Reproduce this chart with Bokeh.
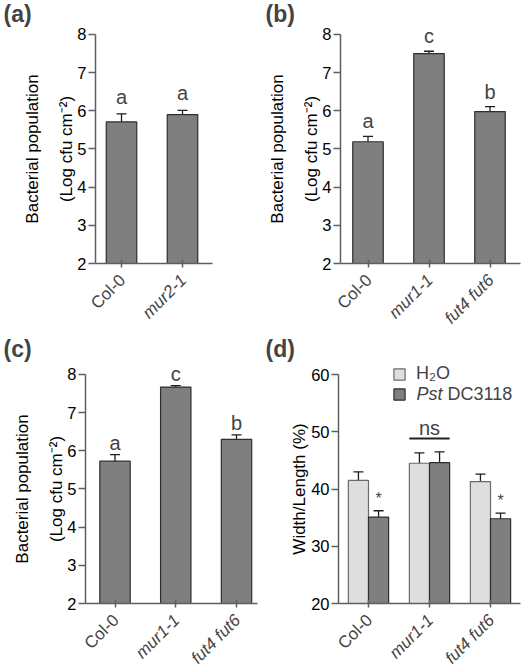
from math import pi
from bokeh.plotting import figure
from bokeh.models import (Range1d, FixedTicker, Label, Whisker, ColumnDataSource,
                          Legend, LegendItem)
from bokeh.layouts import column, row
from bokeh.embed import file_html
from bokeh.resources import INLINE

# ---------------- data ----------------
a_cats = ["Col-0", "mur2-1"]
a_italic = [False, True]
a_means = [5.71, 5.90]
a_errs = [0.21, 0.11]
a_letters = ["a", "a"]

b_cats = ["Col-0", "mur1-1", "fut4 fut6"]
b_italic = [False, True, True]
b_means = [5.19, 7.50, 5.98]
b_errs = [0.14, 0.06, 0.13]
b_letters = ["a", "c", "b"]

c_cats = ["Col-0", "mur1-1", "fut4 fut6"]
c_italic = [False, True, True]
c_means = [5.73, 7.67, 6.30]
c_errs = [0.17, 0.04, 0.12]
c_letters = ["a", "c", "b"]

d_cats = ["Col-0", "mur1-1", "fut4 fut6"]
d_italic = [False, True, True]
d_h2o = [41.5, 44.5, 41.3]
d_h2o_err = [1.5, 1.8, 1.3]
d_pst = [35.1, 44.6, 34.8]
d_pst_err = [1.1, 1.9, 1.0]
d_marks = ["*", "", "*"]
d_ns_group = 1
d_ns_y = 48.8

log_ticks = [2, 3, 4, 5, 6, 7, 8]
ratio_ticks = [20, 30, 40, 50, 60]
log_label = "Bacterial population\n(Log cfu cm\u207b\u00b2)"
ratio_label = "Width/Length (%)"
series_names = ["H\u2082O", "Pst", "DC3118"]   # "Pst" is italic in the legend

# ---------------- style / layout ----------------
FONT = "Liberation Sans"
BAR_DARK = "#7f7f7f"
BAR_LIGHT = "#dedede"
EDGE_DARK = "#2e2e2e"
EDGE_LIGHT = "#6a6a6a"
AXIS = "#5f5f5f"
ERR = "#1e1e1e"

# page-pixel layout of each panel: figure box, first-category pixel, px per category,
# pixel of the lowest y tick, px per y unit, y-axis pixel, x-axis end pixel
LAYOUT = {
    "a": dict(box=(0, 0, 262, 335), c0=121, sx=61, y0px=263, sy=38.17, yaxis=95, xend=212),
    "b": dict(box=(262, 0, 262, 335), c0=367.5, sx=61, y0px=263, sy=38.17, yaxis=340, xend=520),
    "c": dict(box=(0, 335, 262, 336), c0=114.5, sx=60.75, y0px=603, sy=38.17, yaxis=85, xend=257),
    "d": dict(box=(262, 335, 262, 336), c0=368, sx=61, y0px=603, sy=5.725, yaxis=338, xend=520),
}
LEGEND_TEXT_PX = (416, 393)     # left / middle of the second legend text, page pixels


def px_to_data(key, ymin, px, py):
    L = LAYOUT[key]
    return (px - L["c0"]) / L["sx"], ymin + (L["y0px"] - py) / L["sy"]


def make_fig(key, yticks, ylabel, tag, label_standoff, line_height):
    L = LAYOUT[key]
    bx, by, w, h = L["box"]
    ymin = yticks[0]
    xr = ((bx - L["c0"]) / L["sx"], (bx + w - L["c0"]) / L["sx"])
    yr = (ymin - (by + h - L["y0px"]) / L["sy"], ymin + (L["y0px"] - by) / L["sy"])
    p = figure(width=w, height=h, x_range=Range1d(*xr), y_range=Range1d(*yr),
               output_backend="svg", toolbar_location=None, tools="",
               min_border_left=0, min_border_right=0, min_border_top=0, min_border_bottom=0)
    p.outline_line_color = None
    p.xgrid.visible = False
    p.ygrid.visible = False
    p.background_fill_color = "white"
    p.border_fill_color = "white"

    yax_x = (L["yaxis"] - L["c0"]) / L["sx"]
    xend = (L["xend"] - L["c0"]) / L["sx"]

    ya = p.yaxis[0]
    ya.fixed_location = yax_x
    ya.bounds = (yticks[0], yticks[-1])
    ya.ticker = FixedTicker(ticks=yticks)
    ya.minor_tick_line_color = None
    ya.major_tick_out = 7
    ya.major_tick_in = 0
    ya.axis_line_color = AXIS
    ya.axis_line_width = 1.5
    ya.major_tick_line_color = AXIS
    ya.major_tick_line_width = 1.5
    ya.major_label_text_font = FONT
    ya.major_label_text_font_size = "16.5px"
    ya.major_label_text_color = "black"
    ya.major_label_standoff = 2
    ya.axis_label = ylabel
    ya.axis_label_text_font = FONT
    ya.axis_label_text_font_size = "17px"
    ya.axis_label_text_font_style = "normal"
    ya.axis_label_text_color = "black"
    ya.axis_label_text_line_height = line_height
    ya.axis_label_standoff = label_standoff

    xa = p.xaxis[0]
    xa.fixed_location = ymin
    xa.bounds = (yax_x, xend)
    xa.minor_tick_line_color = None
    xa.major_tick_in = 4
    xa.major_tick_out = 4
    xa.axis_line_color = AXIS
    xa.axis_line_width = 1.5
    xa.major_tick_line_color = AXIS
    xa.major_tick_line_width = 1.5
    xa.major_label_text_font_size = "0px"
    xa.major_label_text_alpha = 0

    p.add_layout(Label(x=xr[0], y=yr[1], x_offset=3, y_offset=0,
                       text=tag, text_font=FONT, text_font_size="23px",
                       text_font_style="bold", text_baseline="top", text_align="left"))
    return p, ymin


def add_xlabels(p, cats, italic, ymin):
    xa = p.xaxis[0]
    xa.ticker = FixedTicker(ticks=list(range(len(cats))))
    for i, (c, it) in enumerate(zip(cats, italic)):
        p.add_layout(Label(x=i, y=ymin, x_offset=1, y_offset=-14, text=c, angle=pi / 4,
                           text_align="right", text_baseline="middle",
                           text_font=FONT, text_font_size="17px",
                           text_font_style="italic" if it else "normal"))


def add_whiskers(p, xs, means, errs):
    src = ColumnDataSource(dict(x=xs, upper=[m + e for m, e in zip(means, errs)],
                                lower=[m - e for m, e in zip(means, errs)]))
    w = Whisker(source=src, base="x", upper="upper", lower="lower",
                line_color=ERR, line_width=1.3)
    for hd in (w.upper_head, w.lower_head):
        hd.size = 10
        hd.line_color = ERR
        hd.line_width = 1.3
    p.add_layout(w)


def bar_panel(key, cats, italic, means, errs, letters, tag, letter_gap):
    p, ymin = make_fig(key, log_ticks, log_label, tag, -2, 1.79)
    xs = list(range(len(cats)))
    src = ColumnDataSource(dict(x=xs, top=means))
    p.vbar(x="x", top="top", bottom=ymin, width=0.5, source=src,
           fill_color=BAR_DARK, line_color=EDGE_DARK, line_width=1.2)
    add_whiskers(p, xs, means, errs)
    for x, m, e, s in zip(xs, means, errs, letters):
        p.add_layout(Label(x=x, y=m + e, y_offset=letter_gap, text=s, text_align="center",
                           text_baseline="bottom", text_font=FONT, text_font_size="20px"))
    add_xlabels(p, cats, italic, ymin)
    return p


pa = bar_panel("a", a_cats, a_italic, a_means, a_errs, a_letters, "(a)", 6)
pb = bar_panel("b", b_cats, b_italic, b_means, b_errs, b_letters, "(b)", 4)
pc = bar_panel("c", c_cats, c_italic, c_means, c_errs, c_letters, "(c)", 1)

# ---- panel d ----
pd, ymin_d = make_fig("d", ratio_ticks, ratio_label, "(d)", -1, 1.2)
xs = list(range(len(d_cats)))
bw = 0.33
src_h = ColumnDataSource(dict(x=[x - bw / 2 for x in xs], top=d_h2o))
src_p = ColumnDataSource(dict(x=[x + bw / 2 for x in xs], top=d_pst))
rh = pd.vbar(x="x", top="top", bottom=ymin_d, width=bw, source=src_h,
             fill_color=BAR_LIGHT, line_color=EDGE_LIGHT, line_width=1.2)
rp = pd.vbar(x="x", top="top", bottom=ymin_d, width=bw, source=src_p,
             fill_color=BAR_DARK, line_color=EDGE_DARK, line_width=1.2)
add_whiskers(pd, [x - bw / 2 for x in xs], d_h2o, d_h2o_err)
add_whiskers(pd, [x + bw / 2 for x in xs], d_pst, d_pst_err)
for x, m, e, s in zip(xs, d_pst, d_pst_err, d_marks):
    if s:
        pd.add_layout(Label(x=x + bw / 2, y=m + e, y_offset=4, text=s, text_align="center",
                            text_baseline="bottom", text_font=FONT, text_font_size="16px"))
pd.segment(x0=[d_ns_group - bw], x1=[d_ns_group + bw], y0=[d_ns_y], y1=[d_ns_y],
           line_color="#222222", line_width=2)
pd.add_layout(Label(x=d_ns_group, y=d_ns_y, y_offset=0, text="ns", text_align="center",
                    text_baseline="bottom", text_font=FONT, text_font_size="20px"))
add_xlabels(pd, d_cats, d_italic, ymin_d)

legend = Legend(items=[LegendItem(label=series_names[0], renderers=[rh]),
                       LegendItem(label=" ", renderers=[rp])],
                location=(130, 268), border_line_color=None, background_fill_alpha=0,
                padding=0, margin=0, spacing=0, glyph_width=14, glyph_height=14,
                label_height=19, label_standoff=10, label_text_font=FONT,
                label_text_font_size="18px")
pd.add_layout(legend)
lx, ly = px_to_data("d", ymin_d, *LEGEND_TEXT_PX)
pd.add_layout(Label(x=lx, y=ly, text=series_names[1], text_font=FONT, text_font_size="18px",
                    text_font_style="italic", text_baseline="middle", text_align="left"))
pd.add_layout(Label(x=lx, y=ly, x_offset=31, text=series_names[2], text_font=FONT,
                    text_font_size="18px", text_baseline="middle", text_align="left"))

layout = column(row(pa, pb), row(pc, pd))
open("out.html", "w").write(file_html(layout, INLINE))
